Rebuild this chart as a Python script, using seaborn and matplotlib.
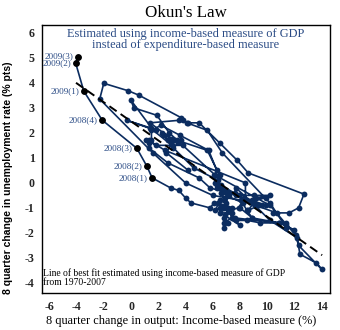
import matplotlib
matplotlib.use("Agg")
import matplotlib.pyplot as plt
import seaborn as sns
import pandas as pd

# 8-quarter change in real output (income-based, %) and in the unemployment
# rate (percentage points), quarterly from 1970Q1 through 2009Q3.
output_growth = [
    4.2, 2.6, 3.1, 1.4,        # 1970
    3.5, 3.8, 4.2, 5.0,        # 1971
    6.5, 7.8, 8.6, 12.7,       # 1972
    12.3, 11.6, 10.4, 10.7,    # 1973
    8.1, 6.0, 4.0, 1.6,        # 1974
    -2.3, -2.0, -0.2, 0.6,     # 1975
    3.7, 4.1, 5.6, 6.7,        # 1976
    10.2, 11.4, 11.4, 9.5,     # 1977
    7.6, 10.9, 11.4, 12.0,     # 1978
    10.9, 8.9, 8.0, 8.4,       # 1979
    8.4, 2.5, 1.3, 1.8,        # 1980
    3.8, 2.8, 3.0, 1.4,        # 1981
    -0.3, 1.8, 1.5, 0.0,       # 1982
    0.2, 1.9, 2.8, 6.2,        # 1983
    10.2, 12.1, 12.3, 14.0,    # 1984
    13.6, 12.4, 12.2, 10.2,    # 1985
    9.1, 7.7, 7.6, 7.2,        # 1986
    6.9, 7.1, 6.5, 7.4,        # 1987
    6.9, 8.0, 7.7, 8.5,        # 1988
    8.9, 8.5, 8.2, 6.6,        # 1989
    7.1, 5.8, 5.0, 2.7,        # 1990
    1.3, 1.3, 1.1, 1.5,        # 1991
    1.5, 2.2, 3.6, 5.7,        # 1992
    6.3, 6.1, 6.3, 7.1,        # 1993
    7.0, 7.4, 6.8, 6.8,        # 1994
    7.1, 6.8, 7.1, 6.5,        # 1995
    6.2, 6.5, 6.8, 6.7,        # 1996
    7.0, 8.5, 8.9, 9.1,        # 1997
    9.4, 8.6, 9.0, 9.6,        # 1998
    9.9, 8.9, 9.0, 9.9,        # 1999
    9.2, 10.2, 9.0, 7.9,       # 2000
    6.6, 6.4, 4.6, 3.1,        # 2001
    3.7, 2.4, 2.7, 2.3,        # 2002
    3.1, 3.4, 5.6, 6.5,        # 2003
    6.2, 6.3, 6.7, 7.7,        # 2004
    8.3, 7.9, 7.2, 6.4,        # 2005
    7.4, 6.8, 6.1, 5.8,        # 2006
    4.4, 4.0, 3.5, 2.9,        # 2007
    1.55, 1.16, 0.43, -2.12,   # 2008
    -3.47, -4.06, -3.91,       # 2009
]

unemp_change = [
    0.5, 1.2, 1.7, 2.4,        # 1970
    2.5, 2.5, 2.4, 2.4,        # 1971
    1.6, 0.9, 0.4, -0.45,      # 1972
    -1.0, -1.2, -1.2, -1.2,    # 1973
    -0.7, -0.5, 0.0, 1.2,      # 1974
    3.35, 3.98, 3.68, 3.5,     # 1975
    2.6, 2.4, 2.1, 1.2,        # 1976
    -0.8, -1.8, -1.6, -1.6,    # 1977
    -1.4, -1.6, -1.7, -1.9,    # 1978
    -1.6, -1.4, -1.0, -0.7,    # 1979
    0.0, 1.3, 1.7, 1.5,        # 1980
    1.5, 1.7, 1.5, 2.2,        # 1981
    2.5, 2.1, 2.2, 3.3,        # 1982
    3.0, 2.7, 2.0, 0.3,        # 1983
    -0.9, -2.1, -2.5, -3.45,   # 1984
    -3.2, -2.85, -2.2, -1.5,   # 1985
    -0.9, -0.2, -0.4, -0.5,    # 1986
    -0.6, -1.0, -1.2, -1.2,    # 1987
    -1.3, -1.7, -1.5, -1.5,    # 1988
    -1.4, -1.1, -0.8, -0.4,    # 1989
    -0.4, -0.2, 0.2, 0.8,      # 1990
    1.4, 1.6, 1.7, 1.7,        # 1991
    2.1, 2.3, 1.9, 1.3,        # 1992
    0.5, 0.3, -0.1, -0.5,      # 1993
    -0.8, -1.4, -1.6, -1.8,    # 1994
    -1.6, -1.4, -1.1, -1.0,    # 1995
    -1.1, -0.7, -0.7, -0.3,    # 1996
    -0.3, -0.7, -0.8, -0.9,    # 1997
    -0.9, -1.1, -0.8, -0.9,    # 1998
    -0.9, -0.7, -0.7, -0.6,    # 1999
    -0.6, -0.5, -0.5, -0.5,    # 2000
    -0.1, 0.1, 0.6, 1.4,       # 2001
    1.7, 1.9, 1.7, 2.0,        # 2002
    1.7, 1.7, 1.3, 0.3,        # 2003
    0.0, -0.2, -0.3, -0.5,     # 2004
    -0.6, -1.0, -1.1, -0.8,    # 2005
    -1.0, -1.0, -0.8, -1.0,    # 2006
    -0.8, -0.6, -0.3, -0.2,    # 2007
    0.2, 0.67, 1.38, 2.51,     # 2008
    3.67, 4.78, 5.05,          # 2009
]

# Line of best fit over 1970-2007, drawn between its two end points
fit_x = [-4.04, 14.03]
fit_y = [4.00, -2.89]

# Recent quarters singled out on the chart
recent_labels = ["2008(1)", "2008(2)", "2008(3)", "2008(4)",
                 "2009(1)", "2009(2)", "2009(3)"]

x_ticks = [-6, -4, -2, 0, 2, 4, 6, 8, 10, 12, 14]
y_ticks = [-4, -3, -2, -1, 0, 1, 2, 3, 4, 5, 6]

navy = "#0b2c5f"
label_blue = "#2a4b85"
serif = ["Liberation Serif", "DejaVu Serif"]

sns.set_theme(style="white")
plt.rcParams["font.family"] = serif

df = pd.DataFrame({"growth": output_growth, "unemp": unemp_change})
n_recent = len(recent_labels)
recent = df.tail(n_recent).copy()
recent["label"] = recent_labels
fit_df = pd.DataFrame({"growth": fit_x, "unemp": fit_y})

fig = plt.figure(figsize=(3.4, 3.3), dpi=100)
ax = fig.add_axes([0.1226, 0.113, 0.848, 0.8112])

# connected quarterly path
sns.lineplot(data=df, x="growth", y="unemp", sort=False, estimator=None,
             color=navy, linewidth=1.2, marker="o", markersize=4.2,
             markeredgewidth=0, markerfacecolor=navy, ax=ax, zorder=2)

# recent quarters in black
sns.scatterplot(data=recent, x="growth", y="unemp", color="black", s=24,
                linewidth=0, ax=ax, zorder=4)

# dashed line of best fit
sns.lineplot(data=fit_df, x="growth", y="unemp", color="black",
             linewidth=1.4, linestyle=(0, (4.5, 2.5)), ax=ax, zorder=3)

for _, r in recent.iterrows():
    ax.annotate(r["label"], (r["growth"], r["unemp"]), xytext=(-3, 0),
                textcoords="offset points", ha="right", va="center",
                fontsize=6.6, color=label_blue, family=serif, zorder=5)

ax.set_xlim(-6.56, 14.61)
ax.set_ylim(-4.39, 6.31)
ax.set_xticks(x_ticks)
ax.set_yticks(y_ticks)
ax.set_xticklabels([str(t) for t in x_ticks], fontsize=8.6, fontweight="bold")
ax.set_yticklabels([str(t) for t in y_ticks], fontsize=8.6, fontweight="bold")
ax.tick_params(axis="both", direction="out", length=3.5, width=1,
               color="black", pad=1.5)
ax.tick_params(axis="x", pad=2.5)
for s in ax.spines.values():
    s.set_color("black")
    s.set_linewidth(1.0)

ax.set_xlabel("8 quarter change in output: Income-based measure (%)",
              fontsize=8.8, color="black")
ax.xaxis.set_label_coords(0.485, -0.085)
ax.set_ylabel("8 quarter change in unemployment rate (% pts)",
              fontsize=7.5, fontweight="bold", color="black",
              family=["Liberation Sans", "DejaVu Sans"])
ax.yaxis.set_label_coords(-0.101, 0.43)

fig.text(0.547, 0.96, "Okun's Law", ha="center", va="center",
         fontsize=12.2, color="black")

ax.text(0.5, 0.99, "Estimated using income-based measure of GDP\n"
        "instead of expenditure-based measure",
        transform=ax.transAxes, ha="center", va="top", fontsize=8.9,
        color=label_blue, linespacing=0.95)

ax.text(0.005, 0.02, "Line of best fit estimated using income-based measure of GDP\n"
        "from 1970-2007", transform=ax.transAxes, ha="left", va="bottom",
        fontsize=6.9, color="black", linespacing=1.0)

fig.savefig("out.png", dpi=100)
